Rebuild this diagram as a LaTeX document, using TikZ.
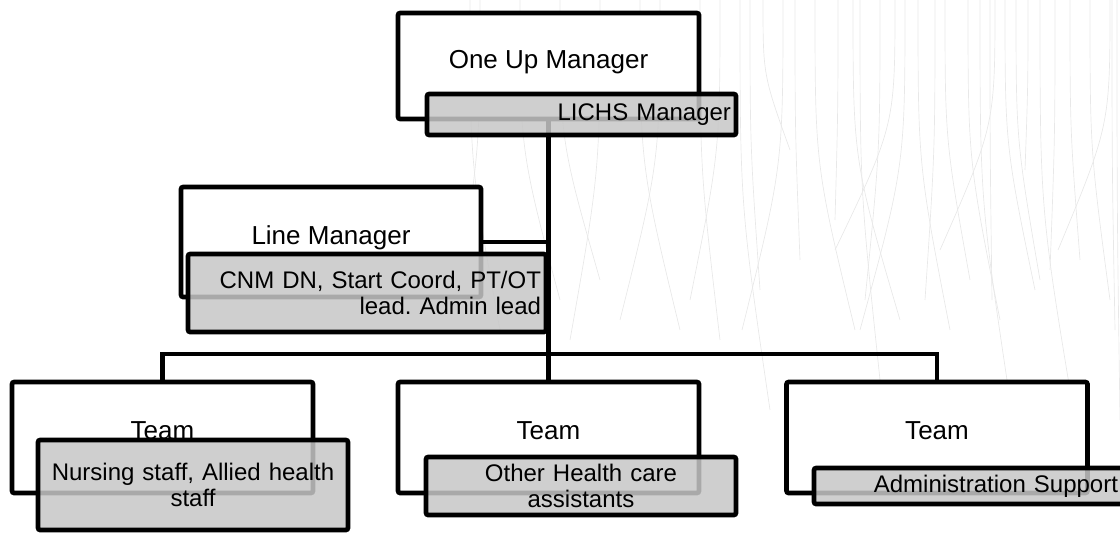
\documentclass[tikz,border=0pt]{standalone}
\usepackage{fontspec}
\setmainfont{Liberation Sans}
\usepackage{tikz}
\usetikzlibrary{positioning}
\frenchspacing

\tikzset{
	mgrbox/.style={draw, line width=3.4pt, rounded corners=1.5pt, fill=white,
		minimum width=225.75pt, minimum height=#1,
		text height=13.5pt, text depth=10.5pt, font=\fontsize{19.5}{22}\selectfont},
	rolebox/.style={draw, line width=3.4pt, rounded corners=1.5pt,
		fill=black!22, fill opacity=0.85, text opacity=1,
		inner xsep=3.75pt, inner ysep=0pt, font=\fontsize{18}{19}\selectfont},
	conn/.style={draw, line width=3.4pt},
	strand/.style={draw=black!9, line width=0.5pt}
}

\begin{document}
\begin{tikzpicture}[x=0.75pt, y=-0.75pt]
		\useasboundingbox (0,0) rectangle (1120,532);
		% background strands
		\foreach \a/\b/\e in {750/760/290, 763/790/150, 783/742/330, 795/800/260, 815/855/330,
				838/835/220, 853/900/320, 880/865/300, 895/835/250, 905/860/330, 918/950/330,
				935/925/300, 945/970/280, 968/1000/320, 990/992/300, 995/940/250, 1005/1035/290,
				1016/1040/280, 1028/1025/170, 1055/1050/270, 1070/1080/260, 1090/1110/300,
				1110/1058/250, 1112/1115/330, 1117/1120/420, 470/500/330, 520/560/300,
				600/570/340, 640/680/330, 660/620/320, 700/720/340, 720/690/300, 560/600/280,
				480/455/300, 1040/1075/420, 980/1010/400, 740/770/410, 860/880/380}
			\draw[strand] (\a,0) .. controls (\a,{\e/2}) .. (\b,\e);

		% managers
		\node[mgrbox=79.5pt] (one) at (548.5,66) {One Up Manager};
		\node[mgrbox=82.5pt, minimum width=225pt] (line) at (331,242) {Line Manager};
		% teams
		\node[mgrbox=83.25pt] (teamA) at (162.5,437.5) {Team};
		\node[mgrbox=83.25pt] (teamB) at (548.5,437.5) {Team};
		\node[mgrbox=83.25pt] (teamC) at (937,437.5) {Team};

		% connectors
		\coordinate (bus) at (548.5,354);
		\draw[conn] (one.south) -- (teamB.north);
		\draw[conn] (line.east) -- (line.east -| one.south);
		\draw[conn] (teamA.north) |- (bus) -| (teamC.north);

		% role boxes
		\node[rolebox, text width=224.25pt, minimum height=30.75pt, align=right] (oneRole) at (581.5,114.5) {LICHS Manager};
		\node[rolebox, text width=261pt, minimum height=58.5pt, align=right] (lineRole) at (367,293) {CNM DN, Start Coord, PT/OT\\lead. Admin lead};
		\node[rolebox, text width=225pt, minimum height=67.5pt, align=center] (teamARole) at (193,485) {Nursing staff, Allied health\\staff};
		\node[rolebox, text width=225pt, minimum height=43.5pt, align=center] (teamBRole) at (581,486) {Other Health care\\assistants};
		\node[rolebox, text width=224.25pt, minimum height=27pt, align=right] (teamCRole) at (968.5,486) {Administration Support};
\end{tikzpicture}
\end{document}
